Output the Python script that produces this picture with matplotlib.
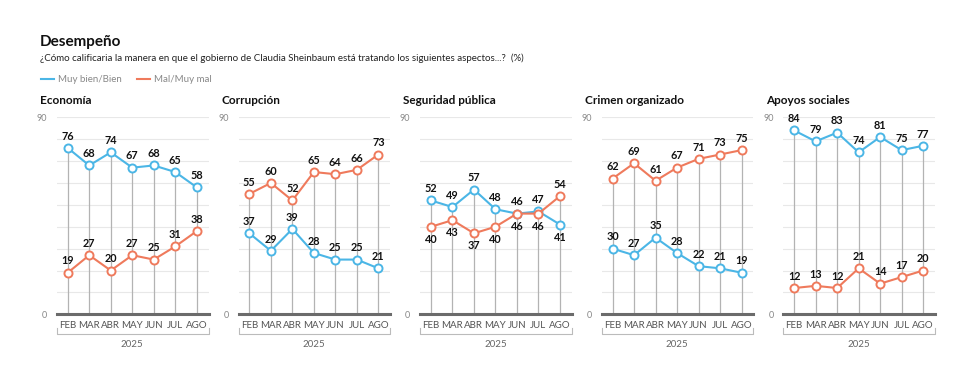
import matplotlib.pyplot as plt
from matplotlib.lines import Line2D

plt.rcParams['font.family'] = ['Lato', 'DejaVu Sans']

months = ['FEB', 'MAR', 'ABR', 'MAY', 'JUN', 'JUL', 'AGO']
year = '2025'
panels = ['Economía', 'Corrupción', 'Seguridad pública', 'Crimen organizado', 'Apoyos sociales']
bien = [
    [76, 68, 74, 67, 68, 65, 58],
    [37, 29, 39, 28, 25, 25, 21],
    [52, 49, 57, 48, 46, 47, 41],
    [30, 27, 35, 28, 22, 21, 19],
    [84, 79, 83, 74, 81, 75, 77],
]
mal = [
    [19, 27, 20, 27, 25, 31, 38],
    [55, 60, 52, 65, 64, 66, 73],
    [40, 43, 37, 40, 46, 46, 54],
    [62, 69, 61, 67, 71, 73, 75],
    [12, 13, 12, 21, 14, 17, 20],
]
# panels where the lower line gets its labels underneath
labels_below = [False, False, True, False, False]

BLUE = '#4bb6e6'
ORANGE = '#ef7a5c'
W, H = 966, 380


def fx(px):
    return px / W


def fy(py):
    return 1 - py / H


fig = plt.figure(figsize=(W / 100, H / 100), dpi=100)
fig.patch.set_facecolor('white')

fig.text(fx(40), fy(42), 'Desempeño', fontsize=11, fontweight='bold', va='center', color='#111')
fig.text(fx(40), fy(58),
         '¿Cómo calificaria la manera en que el gobierno de Claudia Sheinbaum está tratando los siguientes aspectos...?  (%)',
         fontsize=7, va='center', color='#222')

# legend
for x0, col, lab in [(41, BLUE, 'Muy bien/Bien'), (137, ORANGE, 'Mal/Muy mal')]:
    fig.add_artist(Line2D([fx(x0), fx(x0 + 13)], [fy(79), fy(79)], color=col, lw=1.5))
    fig.text(fx(x0 + 17), fy(79), lab, fontsize=7, va='center', color='#888')

step = 181.6
x = list(range(len(months)))
for i, name in enumerate(panels):
    left = 57 + i * step
    ax = fig.add_axes([fx(left), fy(314.3), 151.6 / W, 197 / H])
    ax.set_xlim(-0.5, 6.55)
    ax.set_ylim(0, 90)
    for s in ax.spines.values():
        s.set_visible(False)

    for g in range(10, 91, 10):
        ax.axhline(g, color='#e8e8e8', lw=0.8, zorder=0)
    ax.axhline(0, color='#6b6b6b', lw=2.2, zorder=3, clip_on=False)

    b, m = bien[i], mal[i]
    ax.vlines(x, 0, [max(p, q) for p, q in zip(b, m)], color='#b3b3b3', lw=0.9, zorder=1)

    for ser, other, col in [(b, m, BLUE), (m, b, ORANGE)]:
        ax.plot(x, ser, color=col, lw=1.5, marker='o', ms=5.8, mfc='white', mec=col,
                mew=1.4, zorder=4, clip_on=False)
        for xi, v, o in zip(x, ser, other):
            lower = v < o or (v == o and col == ORANGE)
            if labels_below[i] and lower:
                ax.annotate(str(v), (xi, v), xytext=(0, -5), textcoords='offset points',
                            ha='center', va='top', fontsize=7.8, fontweight='bold', color='#111')
            else:
                ax.annotate(str(v), (xi, v), xytext=(0, 4.5), textcoords='offset points',
                            ha='center', va='bottom', fontsize=7.8, fontweight='bold', color='#111')

    ax.set_xticks(x)
    ax.set_xticklabels(months, fontsize=7, color='#555')
    ax.set_yticks([0, 90])
    ax.set_yticklabels(['0', '90'], fontsize=6.5, color='#888')
    ax.tick_params(axis='x', length=0, pad=5)
    ax.tick_params(axis='y', length=0, pad=7)

    # year bracket
    ax.plot([-0.5, -0.5, 6.55, 6.55], [-6.3, -9.0, -9.0, -6.3], color='#bbbbbb', lw=0.8, clip_on=False)
    ax.text(3.0, -13.6, year, ha='center', va='center', fontsize=7, color='#666')

    fig.text(fx(40 + i * step), fy(100), name, fontsize=8.5, fontweight='bold', va='center', color='#111')

fig.savefig('out.png', dpi=100)
